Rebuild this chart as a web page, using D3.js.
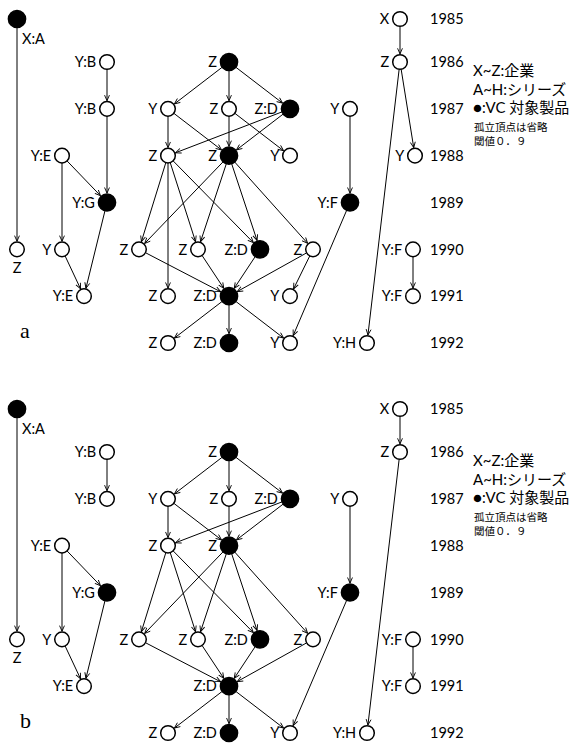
<!DOCTYPE html>
<html>
<head>
<meta charset="utf-8">
<script src="https://cdn.jsdelivr.net/npm/d3@7"></script>
<style>
  body { margin: 0; background: #fff; }
</style>
</head>
<body>
<script>
// years on the right side of each panel
const years = [1985, 1986, 1987, 1988, 1989, 1990, 1991, 1992]

// nodes: id, label, year, layout column, filled (VC product), panels it appears in, label position
const nodes = [
  ["a1", "X:A", 1985, 0,   1, "ab", "br"],
  ["a2", "Z",   1990, 0,   0, "ab", "below"],
  ["b1", "Y:B", 1986, 90,  0, "ab", "left"],
  ["b2", "Y:B", 1987, 90,  0, "ab", "left"],
  ["g1", "Y:G", 1989, 90,  1, "ab", "left"],
  ["e1", "Y:E", 1988, 45,  0, "ab", "left"],
  ["y1", "Y",   1990, 45,  0, "ab", "left"],
  ["e2", "Y:E", 1991, 67,  0, "ab", "left"],
  ["m0", "Z",   1986, 212, 1, "ab", "left"],
  ["m1", "Y",   1987, 151, 0, "ab", "left"],
  ["m2", "Z",   1987, 212, 0, "ab", "left"],
  ["m3", "Z:D", 1987, 273, 1, "ab", "left"],
  ["m4", "Z",   1988, 151, 0, "ab", "left"],
  ["m5", "Z",   1988, 212, 1, "ab", "left"],
  ["m6", "Y",   1988, 273, 0, "a",  "left"],
  ["m7", "Z",   1990, 122, 0, "ab", "left"],
  ["m8", "Z",   1990, 181, 0, "ab", "left"],
  ["m9", "Z:D", 1990, 243, 1, "ab", "left"],
  ["m10", "Z",  1990, 296, 0, "ab", "left"],
  ["m11", "Z",  1991, 151, 0, "a",  "left"],
  ["m12", "Z:D", 1991, 212, 1, "ab", "left"],
  ["m13", "Y",  1991, 273, 0, "a",  "left"],
  ["m14", "Z",  1992, 151, 0, "ab", "left"],
  ["m15", "Z:D", 1992, 212, 1, "ab", "left"],
  ["m16", "Y",  1992, 273, 0, "ab", "left"],
  ["f0", "Y",   1987, 333, 0, "ab", "left"],
  ["f1", "Y:F", 1989, 333, 1, "ab", "left"],
  ["r0", "X",   1985, 383, 0, "ab", "left"],
  ["r1", "Z",   1986, 383, 0, "ab", "left"],
  ["r2", "Y",   1988, 398, 0, "a",  "left"],
  ["r3", "Y:H", 1992, 350, 0, "ab", "left"],
  ["s0", "Y:F", 1990, 396, 0, "ab", "left"],
  ["s1", "Y:F", 1991, 396, 0, "ab", "left"]
]

// edges: source, target, panels
const edges = [
  ["a1", "a2", "ab"], ["b1", "b2", "ab"], ["b2", "g1", "a"],
  ["e1", "y1", "ab"], ["e1", "g1", "ab"], ["y1", "e2", "ab"], ["g1", "e2", "ab"],
  ["m0", "m1", "ab"], ["m0", "m2", "ab"], ["m0", "m3", "ab"],
  ["m1", "m4", "ab"], ["m1", "m5", "ab"], ["m2", "m5", "ab"], ["m2", "m6", "a"],
  ["m3", "m4", "ab"], ["m3", "m5", "ab"],
  ["m4", "m7", "ab"], ["m4", "m8", "ab"], ["m4", "m9", "ab"], ["m4", "m11", "a"],
  ["m5", "m7", "ab"], ["m5", "m8", "ab"], ["m5", "m9", "ab"], ["m5", "m10", "ab"],
  ["m7", "m12", "ab"], ["m8", "m12", "ab"], ["m9", "m12", "ab"], ["m10", "m12", "ab"],
  ["m10", "m13", "a"],
  ["m12", "m14", "ab"], ["m12", "m15", "ab"], ["m12", "m16", "ab"],
  ["f0", "f1", "ab"], ["f1", "m16", "ab"],
  ["r0", "r1", "ab"], ["r1", "r2", "a"], ["r1", "r3", "ab"],
  ["s0", "s1", "ab"]
]

const legendLines = ["X~Z:企業", "A~H:シリーズ", "●:VC 対象製品"]
const noteLines = ["孤立頂点は省略", "閾値０．９"]
const panels = ["a", "b"]

const width = 572, height = 743
const svg = d3.select("body").append("svg")
  .attr("width", width)
  .attr("height", height)

svg.append("defs").append("marker")
  .attr("id", "arr")
  .attr("viewBox", "0 0 10 10")
  .attr("refX", 9).attr("refY", 5)
  .attr("markerWidth", 7).attr("markerHeight", 7)
  .attr("markerUnits", "userSpaceOnUse")
  .attr("orient", "auto")
  .append("path")
  .attr("d", "M1,1.5 L9,5 L1,8.5")
  .attr("fill", "none")
  .attr("stroke", "#000")
  .attr("stroke-width", 1.3)

const font = "Lato, 'Noto Sans CJK JP', sans-serif"
const x = d3.scaleLinear().domain([0, 400]).range([17, 417])
const rOpen = 7.3, rFill = 8.6

panels.forEach((p, pi) => {
  const off = pi * 390
  const y = d3.scaleLinear().domain([1985, 1986, 1992]).range([19 + off, 62 + off, 343 + off])
  const g = svg.append("g")

  const ns = nodes.filter(n => n[5].includes(p)).map(n => ({
    id: n[0], label: n[1], year: n[2], x: x(n[3]), y: y(n[2]), filled: n[4], pos: n[6],
    r: n[4] ? rFill : rOpen
  }))
  const byId = new Map(ns.map(n => [n.id, n]))
  const es = edges.filter(e => e[2].includes(p)).map(e => ({source: byId.get(e[0]), target: byId.get(e[1])}))

  // edges, trimmed to circle borders
  g.selectAll("line")
    .data(es)
    .enter()
    .append("line")
    .each(function(d) {
      const dx = d.target.x - d.source.x, dy = d.target.y - d.source.y
      const len = Math.sqrt(dx * dx + dy * dy)
      const ux = dx / len, uy = dy / len
      d3.select(this)
        .attr("x1", d.source.x + ux * d.source.r)
        .attr("y1", d.source.y + uy * d.source.r)
        .attr("x2", d.target.x - ux * (d.target.r + 0.8))
        .attr("y2", d.target.y - uy * (d.target.r + 0.8))
    })
    .attr("stroke", "#000")
    .attr("stroke-width", 1)
    .attr("marker-end", "url(#arr)")

  g.selectAll("circle")
    .data(ns)
    .enter()
    .append("circle")
    .attr("cx", d => d.x)
    .attr("cy", d => d.y)
    .attr("r", d => d.r)
    .attr("fill", d => d.filled ? "#000" : "#fff")
    .attr("stroke", "#000")
    .attr("stroke-width", 1.5)

  g.selectAll("text.lbl")
    .data(ns)
    .enter()
    .append("text")
    .attr("class", "lbl")
    .attr("x", d => d.pos == "left" ? d.x - d.r - 3.5 : d.pos == "br" ? d.x + 5 : d.x)
    .attr("y", d => d.pos == "left" ? d.y : d.pos == "br" ? d.y + 20 : d.y + 18)
    .attr("dy", "0.36em")
    .attr("text-anchor", d => d.pos == "left" ? "end" : d.pos == "br" ? "start" : "middle")
    .style("font-family", font)
    .style("font-size", "14.5px")
    .text(d => d.label)

  g.selectAll("text.year")
    .data(years)
    .enter()
    .append("text")
    .attr("class", "year")
    .attr("x", 430)
    .attr("y", d => y(d))
    .attr("dy", "0.36em")
    .style("font-family", font)
    .style("font-size", "14.5px")
    .text(d => d)

  g.selectAll("text.leg")
    .data(legendLines)
    .enter()
    .append("text")
    .attr("class", "leg")
    .attr("x", 473)
    .attr("y", (d, i) => off + 76 + i * 18.5)
    .style("font-family", font)
    .style("font-size", "15px")
    .text(d => d)

  g.selectAll("text.note")
    .data(noteLines)
    .enter()
    .append("text")
    .attr("class", "note")
    .attr("x", 474)
    .attr("y", (d, i) => off + 131 + i * 14)
    .style("font-family", "'Noto Sans CJK JP', sans-serif")
    .style("font-size", "10.5px")
    .text(d => d)

  g.append("text")
    .attr("x", 20)
    .attr("y", off + 338)
    .style("font-family", "'Liberation Serif', serif")
    .style("font-size", "22px")
    .text(p)
})
</script>
</body>
</html>
